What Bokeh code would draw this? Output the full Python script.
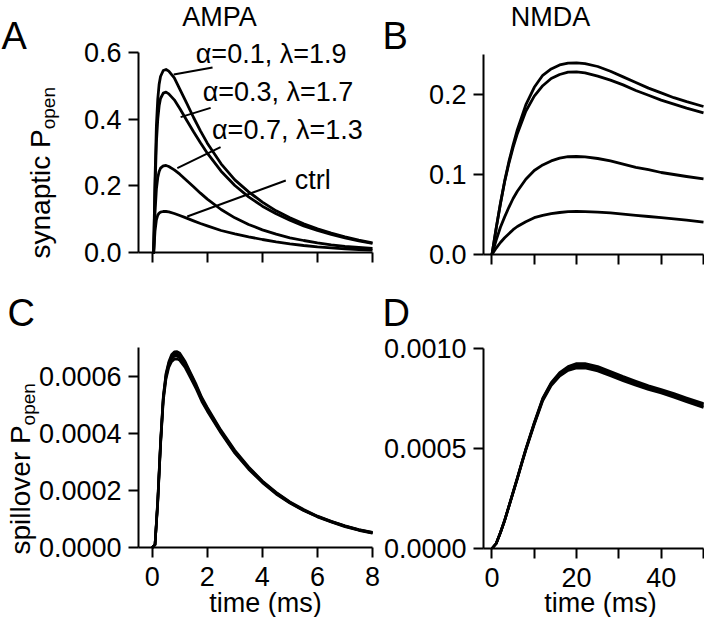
import math
from bokeh.plotting import figure
from bokeh.models import Label, FixedTicker, PrintfTickFormatter, Range1d, LinearAxis
from bokeh.embed import file_html
from bokeh.resources import INLINE

# ---------------- data ----------------
# A: synaptic AMPA open probability
ampa_time = [0, 0.05, 0.1, 0.15, 0.2, 0.25, 0.3, 0.4, 0.5, 0.6, 0.8, 1.0, 1.25, 1.5,
             1.75, 2.0, 2.5, 3.0, 3.5, 4.0, 4.5, 5.0, 5.5, 6.0, 6.5, 7.0, 7.5, 8.0]
ampa_a01 = [0, 0, 0.22, 0.38, 0.46, 0.505, 0.528, 0.546, 0.549, 0.544, 0.524, 0.49, 0.448, 0.405,
            0.365, 0.328, 0.266, 0.218, 0.182, 0.151, 0.125, 0.104, 0.086, 0.071, 0.058, 0.047, 0.037, 0.029]
ampa_a03 = [0, 0, 0.19, 0.33, 0.40, 0.44, 0.462, 0.478, 0.481, 0.476, 0.458, 0.432, 0.397, 0.362,
            0.329, 0.298, 0.244, 0.201, 0.167, 0.139, 0.116, 0.097, 0.080, 0.066, 0.054, 0.044, 0.035, 0.027]
ampa_a07 = [0, 0, 0.12, 0.19, 0.225, 0.243, 0.253, 0.26, 0.261, 0.258, 0.248, 0.235, 0.216, 0.197,
            0.178, 0.16, 0.129, 0.104, 0.084, 0.068, 0.055, 0.044, 0.036, 0.029, 0.023, 0.018, 0.015, 0.012]
ampa_ctrl = [0, 0, 0.065, 0.098, 0.112, 0.118, 0.121, 0.123, 0.123, 0.122, 0.117, 0.111, 0.103, 0.095,
             0.087, 0.08, 0.066, 0.056, 0.047, 0.039, 0.032, 0.026, 0.021, 0.017, 0.014, 0.011, 0.009, 0.007]

# B: synaptic NMDA open probability
nmda_time = [0, 1, 2, 3, 4, 5, 6, 8, 10, 12, 14, 16, 18, 20, 22, 25, 28, 31, 34, 37, 40, 43, 46, 50]
nmda_a01 = [0, 0.033, 0.064, 0.092, 0.116, 0.137, 0.156, 0.187, 0.209, 0.224, 0.232, 0.237, 0.2393,
            0.2395, 0.2385, 0.235, 0.229, 0.222, 0.215, 0.208, 0.202, 0.196, 0.191, 0.185]
nmda_a03 = [0, 0.033, 0.063, 0.091, 0.114, 0.134, 0.151, 0.179, 0.198, 0.211, 0.22, 0.225, 0.228,
            0.2282, 0.227, 0.223, 0.218, 0.212, 0.205, 0.199, 0.193, 0.188, 0.183, 0.177]
nmda_a07 = [0, 0.018, 0.034, 0.047, 0.059, 0.07, 0.079, 0.094, 0.105, 0.112, 0.117, 0.1205, 0.1222,
            0.1225, 0.122, 0.12, 0.117, 0.113, 0.109, 0.106, 0.1025, 0.1, 0.0975, 0.0945]
nmda_ctrl = [0, 0.008, 0.015, 0.021, 0.026, 0.031, 0.035, 0.041, 0.046, 0.049, 0.051, 0.0525, 0.0535,
             0.0538, 0.0535, 0.053, 0.052, 0.0505, 0.049, 0.0475, 0.046, 0.0445, 0.043, 0.0405]

# C: spillover AMPA open probability
spill_ampa_time = [0, 0.1, 0.2, 0.3, 0.4, 0.5, 0.6, 0.7, 0.8, 0.9, 1.0, 1.2, 1.4, 1.6,
                   1.8, 2.0, 2.5, 3.0, 3.5, 4.0, 4.5, 5.0, 5.5, 6.0, 6.5, 7.0, 7.5, 8.0]
spill_ampa_1 = [0, 0.1e-4, 1.7e-4, 3.7e-4, 5.3e-4, 6.1e-4, 6.5e-4, 6.75e-4, 6.85e-4, 6.86e-4, 6.8e-4,
                6.5e-4, 6.1e-4, 5.7e-4, 5.25e-4, 4.9e-4, 4.1e-4, 3.4e-4, 2.82e-4, 2.33e-4, 1.93e-4,
                1.6e-4, 1.33e-4, 1.1e-4, 0.92e-4, 0.76e-4, 0.63e-4, 0.53e-4]
spill_ampa_2 = [0, 0.1e-4, 1.65e-4, 3.65e-4, 5.25e-4, 6.05e-4, 6.45e-4, 6.68e-4, 6.77e-4, 6.78e-4, 6.72e-4,
                6.44e-4, 6.05e-4, 5.65e-4, 5.2e-4, 4.85e-4, 4.06e-4, 3.36e-4, 2.79e-4, 2.31e-4, 1.91e-4,
                1.58e-4, 1.31e-4, 1.09e-4, 0.91e-4, 0.75e-4, 0.62e-4, 0.52e-4]
spill_ampa_3 = [0, 0.1e-4, 1.6e-4, 3.6e-4, 5.2e-4, 5.98e-4, 6.38e-4, 6.6e-4, 6.69e-4, 6.7e-4, 6.64e-4,
                6.37e-4, 5.99e-4, 5.6e-4, 5.16e-4, 4.81e-4, 4.03e-4, 3.33e-4, 2.77e-4, 2.29e-4, 1.89e-4,
                1.57e-4, 1.3e-4, 1.08e-4, 0.9e-4, 0.74e-4, 0.61e-4, 0.51e-4]
spill_ampa_4 = [0, 0.1e-4, 1.55e-4, 3.55e-4, 5.12e-4, 5.9e-4, 6.3e-4, 6.5e-4, 6.59e-4, 6.6e-4, 6.55e-4,
                6.29e-4, 5.92e-4, 5.54e-4, 5.11e-4, 4.77e-4, 4.0e-4, 3.3e-4, 2.74e-4, 2.27e-4, 1.87e-4,
                1.55e-4, 1.29e-4, 1.07e-4, 0.89e-4, 0.73e-4, 0.6e-4, 0.5e-4]

# D: spillover NMDA open probability
spill_nmda_time = [0, 1, 2, 3, 4, 5, 6, 7, 8, 10, 12, 14, 16, 18, 20, 22, 25, 28, 31, 34, 37, 40, 43, 46, 50]
spill_nmda_1 = [0, 0.25e-4, 0.8e-4, 1.42e-4, 2.12e-4, 2.83e-4, 3.54e-4, 4.27e-4, 4.98e-4, 6.3e-4,
                7.52e-4, 8.3e-4, 8.8e-4, 9.1e-4, 9.25e-4, 9.25e-4, 9.1e-4, 8.85e-4, 8.6e-4, 8.37e-4,
                8.14e-4, 7.95e-4, 7.75e-4, 7.53e-4, 7.25e-4]
spill_nmda_2 = [0, 0.25e-4, 0.8e-4, 1.41e-4, 2.11e-4, 2.82e-4, 3.52e-4, 4.25e-4, 4.96e-4, 6.27e-4,
                7.48e-4, 8.25e-4, 8.75e-4, 9.04e-4, 9.18e-4, 9.18e-4, 9.03e-4, 8.78e-4, 8.53e-4, 8.3e-4,
                8.08e-4, 7.9e-4, 7.7e-4, 7.48e-4, 7.2e-4]
spill_nmda_3 = [0, 0.25e-4, 0.79e-4, 1.4e-4, 2.1e-4, 2.8e-4, 3.5e-4, 4.23e-4, 4.94e-4, 6.24e-4,
                7.44e-4, 8.2e-4, 8.69e-4, 8.97e-4, 9.1e-4, 9.1e-4, 8.95e-4, 8.71e-4, 8.46e-4, 8.23e-4,
                8.02e-4, 7.84e-4, 7.63e-4, 7.41e-4, 7.12e-4]
spill_nmda_4 = [0, 0.25e-4, 0.79e-4, 1.39e-4, 2.09e-4, 2.78e-4, 3.48e-4, 4.2e-4, 4.91e-4, 6.2e-4,
                7.38e-4, 8.14e-4, 8.62e-4, 8.9e-4, 9.02e-4, 9.02e-4, 8.87e-4, 8.63e-4, 8.39e-4, 8.16e-4,
                7.95e-4, 7.77e-4, 7.56e-4, 7.34e-4, 7.05e-4]

# ticks
ampa_xticks = [0, 2, 4, 6, 8]
nmda_xticks = [0, 10, 20, 30, 40, 50]
nmda_xtick_labels = {0: "0", 10: "", 20: "20", 30: "", 40: "40", 50: ""}
syn_ampa_yticks = [0.0, 0.2, 0.4, 0.6]
syn_nmda_yticks = [0.0, 0.1, 0.2]
spill_ampa_yticks = [0.0, 0.0002, 0.0004, 0.0006]
spill_nmda_yticks = [0.0, 0.0005, 0.0010]

# curve annotations in panel A (text centre-left anchor and pointer line, data units)
curve_labels = ["α=0.1, λ=1.9", "α=0.3, λ=1.7", "α=0.7, λ=1.3", "ctrl"]
label_t = [1.58, 1.83, 2.17, 5.18]
label_v = [0.595, 0.481, 0.367, 0.219]
pointer_t0 = [0.78, 1.03, 0.91, 1.27]
pointer_v0 = [0.534, 0.406, 0.253, 0.108]
pointer_t1 = [2.19, 2.12, 2.48, 4.85]
pointer_v1 = [0.555, 0.434, 0.316, 0.216]

# ---------------- one canvas, one set of scales per panel ----------------
FONT = "Liberation Sans"
TICK_SIZE = "27px"
W, H = 704, 617

# default ranges = canvas pixels (y downwards), used only to place the free texts
p = figure(width=W, height=H, x_range=Range1d(0, W), y_range=Range1d(H, 0),
           x_axis_type=None, y_axis_type=None, min_border=0,
           output_backend="svg", toolbar_location=None, title=None)
p.outline_line_color = None
p.background_fill_color = "white"
p.border_fill_color = "white"

# panel geometry in canvas pixels: (x value, px) pairs and (y value, px) pairs
geom = {
    "A": ((-0.5, 138), (8, 372), (0, 252), (0.6, 52)),
    "B": ((-2, 483), (50, 703), (0, 254), (0.25, 54)),
    "C": ((-0.5, 138), (8, 372), (0, 547), (0.0007, 347)),
    "D": ((-2, 483), (50, 703), (0, 548), (0.001, 348)),
}
xr, yr = {}, {}
for name, ((xa, pxa), (xb, pxb), (ya, pya), (yb, pyb)) in geom.items():
    kx = (xb - xa) / (pxb - pxa)
    xs = xa - pxa * kx
    xr[name] = Range1d(xs, xs + W * kx)
    ky = (yb - ya) / (pya - pyb)
    ys = ya - (H - pya) * ky
    yr[name] = Range1d(ys, ys + H * ky)
p.extra_x_ranges = xr
p.extra_y_ranges = yr


def style(ax, standoff):
    ax.axis_line_width = 2
    ax.axis_line_color = "black"
    ax.major_tick_line_width = 2
    ax.major_tick_line_color = "black"
    ax.major_tick_out = 10
    ax.major_tick_in = 0
    ax.minor_tick_line_color = None
    ax.major_label_text_font = FONT
    ax.major_label_text_font_size = TICK_SIZE
    ax.major_label_text_color = "black"
    ax.major_label_standoff = standoff


def axes(name, xticks, yticks, yfmt, xlabels=None):
    (xa, _), (xb, _), (ya, _), (yb, _) = geom[name]
    xax = LinearAxis(x_range_name=name, y_range_name=name, fixed_location=ya,
                     bounds=(xa, xb), ticker=FixedTicker(ticks=xticks))
    if xlabels is not None:
        xax.major_label_overrides = xlabels
    else:
        xax.formatter = PrintfTickFormatter(format="%d")
    style(xax, 9)
    p.add_layout(xax, "below")
    yax = LinearAxis(x_range_name=name, y_range_name=name, fixed_location=xa,
                     bounds=(ya, yb), ticker=FixedTicker(ticks=yticks),
                     formatter=PrintfTickFormatter(format=yfmt))
    style(yax, 7)
    p.add_layout(yax, "left")


axes("A", ampa_xticks, syn_ampa_yticks, "%.1f", {t: "" for t in ampa_xticks})
axes("B", nmda_xticks, syn_nmda_yticks, "%.1f", {t: "" for t in nmda_xticks})
axes("C", ampa_xticks, spill_ampa_yticks, "%.4f")
axes("D", nmda_xticks, spill_nmda_yticks, "%.4f", nmda_xtick_labels)


def curve(name, x, y, w=2.8):
    p.line(x, y, x_range_name=name, y_range_name=name,
           line_width=w, line_color="black", line_join="round")


for ys in (ampa_a01, ampa_a03, ampa_a07, ampa_ctrl):
    curve("A", ampa_time, ys)
for ys in (nmda_a01, nmda_a03, nmda_a07, nmda_ctrl):
    curve("B", nmda_time, ys)
for ys in (spill_ampa_1, spill_ampa_2, spill_ampa_3, spill_ampa_4):
    curve("C", spill_ampa_time, ys, 2.6)
for ys in (spill_nmda_1, spill_nmda_2, spill_nmda_3, spill_nmda_4):
    curve("D", spill_nmda_time, ys, 2.6)

# annotations in A
p.segment(x0=pointer_t0, y0=pointer_v0, x1=pointer_t1, y1=pointer_v1,
          x_range_name="A", y_range_name="A", line_width=2, line_color="black")
for t, v, txt in zip(label_t, label_v, curve_labels):
    p.add_layout(Label(x=t, y=v, x_range_name="A", y_range_name="A", text=txt,
                       text_font=FONT, text_font_size="27px", text_align="left",
                       text_baseline="middle", text_color="black"))


def text(sx, sy, txt, size, align="left", angle=0.0):
    p.add_layout(Label(x=sx, y=sy, text=txt, text_font=FONT, text_font_size=size,
                       text_align=align, text_baseline="middle", angle=angle,
                       text_color="black"))


# panel letters and titles (canvas pixel positions, vertical centre)
text(1, 35, "A", "38px")
text(382, 35, "B", "38px")
text(7, 312, "C", "38px")
text(382, 312, "D", "38px")
text(219, 16, "AMPA", "27px", align="center")
text(550, 16, "NMDA", "27px", align="center")

# y-axis labels with subscript (rotated, centre line)
up = math.pi / 2
text(40.3, 258, "synaptic P", "28px", angle=up)
text(48.4, 258 - 129.2, "open", "19px", angle=up)
text(20.3, 554, "spillover P", "28px", angle=up)
text(28.4, 554 - 129.1, "open", "19px", angle=up)

# x-axis labels
text(265, 602, "time (ms)", "27px", align="center")
text(600, 602, "time (ms)", "27px", align="center")

open("out.html", "w").write(file_html(p, INLINE))
